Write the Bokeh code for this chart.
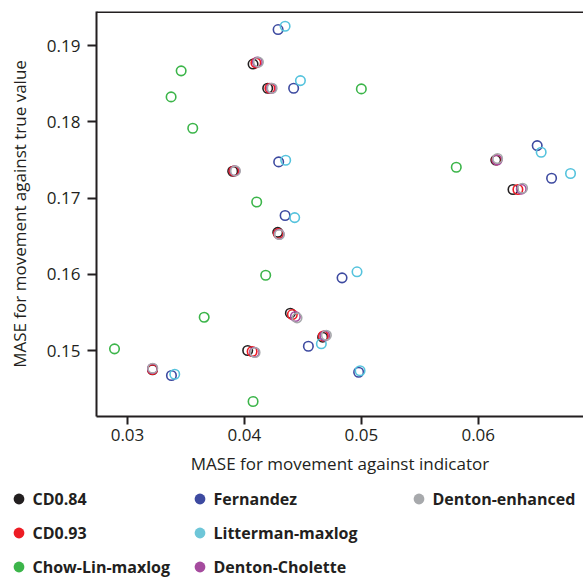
from bokeh.plotting import figure
from bokeh.models import Range1d, FixedTicker, Span, Legend, LegendItem
from bokeh.embed import file_html
from bokeh.resources import INLINE

# ---- data ----
series = ["CD0.84", "CD0.93", "Chow-Lin-maxlog", "Fernandez",
          "Litterman-maxlog", "Denton-Cholette", "Denton-enhanced"]
colors = ["#231f20", "#ed1c24", "#3cb54a", "#3d4aa0",
          "#55c3dd", "#a54b9e", "#a7a9ac"]
legend_colors = ["#231f20", "#ed1c24", "#3cb54a", "#3d4aa0",
                 "#6ec6d8", "#a54b9e", "#a7a9ac"]

x_cd084 = [0.04074, 0.04199, 0.03900, 0.04285, 0.04393, 0.04669, 0.04028, 0.03214, 0.06150, 0.06297]
y_cd084 = [0.18760, 0.18442, 0.17353, 0.16551, 0.15490, 0.15175, 0.15000, 0.14747, 0.17500, 0.17113]

x_cd093 = [0.04098, 0.04218, 0.03910, 0.04291, 0.04410, 0.04675, 0.04066, 0.03214, 0.06158, 0.06339]
y_cd093 = [0.18776, 0.18442, 0.17356, 0.16535, 0.15472, 0.15190, 0.14987, 0.14751, 0.17503, 0.17113]

x_chowlin = [0.03459, 0.03373, 0.03558, 0.05000, 0.05812, 0.04105, 0.04182, 0.03656, 0.02889, 0.04074]
y_chowlin = [0.18671, 0.18329, 0.17917, 0.18434, 0.17406, 0.16949, 0.15988, 0.15437, 0.15022, 0.14331]

x_fernandez = [0.04288, 0.04421, 0.04293, 0.04348, 0.04835, 0.04547, 0.04977, 0.03376, 0.06504, 0.06627]
y_fernandez = [0.19213, 0.18442, 0.17476, 0.16772, 0.15954, 0.15056, 0.14715, 0.14672, 0.17690, 0.17261]

x_litterman = [0.04348, 0.04479, 0.04353, 0.04430, 0.04963, 0.04658, 0.04989, 0.03404, 0.06538, 0.06789]
y_litterman = [0.19256, 0.18543, 0.17497, 0.16745, 0.16033, 0.15088, 0.14734, 0.14689, 0.17602, 0.17323]

x_cholette = [0.04111, 0.04231, 0.03919, 0.04297, 0.04436, 0.04688, 0.04085, 0.03214, 0.06161, 0.06368]
y_cholette = [0.18786, 0.18442, 0.17358, 0.16526, 0.15446, 0.15193, 0.14978, 0.14764, 0.17500, 0.17119]

x_enhanced = [0.04120, 0.04237, 0.03923, 0.04299, 0.04450, 0.04701, 0.04091, 0.03216, 0.06165, 0.06379]
y_enhanced = [0.18786, 0.18442, 0.17358, 0.16522, 0.15429, 0.15201, 0.14974, 0.14768, 0.17520, 0.17130]

xs = [x_cd084, x_cd093, x_chowlin, x_fernandez, x_litterman, x_cholette, x_enhanced]
ys = [y_cd084, y_cd093, y_chowlin, y_fernandez, y_litterman, y_cholette, y_enhanced]

x_ticks = [0.03, 0.04, 0.05, 0.06]
y_ticks = [0.15, 0.16, 0.17, 0.18, 0.19]

x_label = "MASE for movement against indicator"
y_label = "MASE for movement against true value"

# ---- main figure ----
INK = "#231f20"
FONT = "Open Sans"
NAN = float("nan")

p = figure(width=583, height=480, output_backend="svg", toolbar_location=None,
           x_range=Range1d(0.02735, 0.0690), y_range=Range1d(0.14134, 0.1945),
           min_border_left=96, min_border_right=0, min_border_top=11,
           min_border_bottom=64)
p.outline_line_color = None
p.grid.visible = False

for ax, ticks in ((p.xaxis, x_ticks), (p.yaxis, y_ticks)):
    ax.ticker = FixedTicker(ticks=ticks)
    ax.minor_tick_line_color = None
    ax.axis_line_width = 2
    ax.axis_line_color = INK
    ax.major_tick_line_width = 2
    ax.major_tick_line_color = INK
    ax.major_tick_in = 0
    ax.major_label_text_font = FONT
    ax.major_label_text_font_size = "17px"
    ax.major_label_text_color = INK
    ax.axis_label_text_font = FONT
    ax.axis_label_text_font_size = "17px"
    ax.axis_label_text_font_style = "normal"
    ax.axis_label_text_color = INK

p.xaxis.major_tick_out = 8
p.yaxis.major_tick_out = 9
p.xaxis.major_label_standoff = 4
p.yaxis.major_label_standoff = 7
p.xaxis.axis_label = x_label
p.yaxis.axis_label = y_label
p.xaxis.axis_label_standoff = 8
p.yaxis.axis_label_standoff = 13

p.add_layout(Span(location=0.1945, dimension="width", line_color=INK, line_width=3))

for c, xv, yv in zip(colors, xs, ys):
    p.scatter(x=xv, y=yv, marker="circle", size=9.5, fill_color=None,
              line_color=c, line_width=1.6)

# ---- legend strip (separate root below the chart) ----
q = figure(width=583, height=98, output_backend="svg", toolbar_location=None,
           x_axis_type=None, y_axis_type=None,
           x_range=Range1d(0, 1), y_range=Range1d(0, 1),
           min_border_left=0, min_border_right=0, min_border_top=0, min_border_bottom=0)
q.grid.visible = False
q.outline_line_color = None

items = []
for name, lc in zip(series, legend_colors):
    r = q.scatter(x=[NAN], y=[NAN], marker="circle", size=10,
                  fill_color=lc, line_color=None)
    items.append(LegendItem(label=name, renderers=[r]))

groups = [(items[0:3], 4.5, -2), (items[3:6], 185.5, -2), (items[6:7], 404.5, 66)]
for its, vx, vy in groups:
    lg = Legend(items=its, location=(vx, vy), orientation="vertical",
                glyph_width=27, glyph_height=27, spacing=7, label_standoff=1,
                padding=0, margin=0, border_line_color=None, background_fill_alpha=0,
                label_text_font=FONT, label_text_font_style="bold",
                label_text_font_size="16px", label_text_color=INK)
    q.add_layout(lg, "center")

open("out.html", "w").write(file_html([p, q], INLINE))
